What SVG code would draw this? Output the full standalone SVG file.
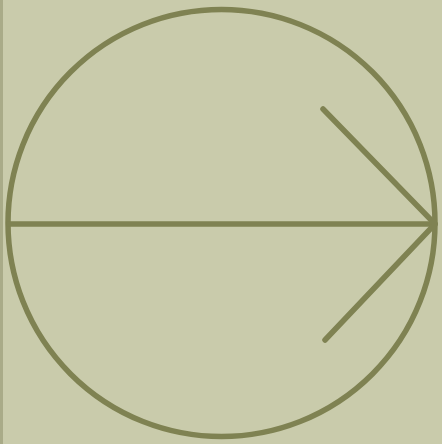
<svg xmlns="http://www.w3.org/2000/svg" width="442" height="444" viewBox="0 0 442 444">
<style>
.ln{fill:none;stroke:#7f8252;stroke-width:5.5;stroke-linecap:round;stroke-linejoin:round}
</style>
<rect width="442" height="444" fill="#c9cbab"/>
<rect x="0" y="0" width="3" height="444" fill="#a9ab88"/>
<g id="circle">
<circle class="ln" cx="221.5" cy="223" r="213.5"/>
</g>
<g id="connectors">
<line class="ln" x1="9" y1="224" x2="435" y2="224"/>
<polyline class="ln" points="323,109 435,224 325,340"/>
</g>
</svg>
